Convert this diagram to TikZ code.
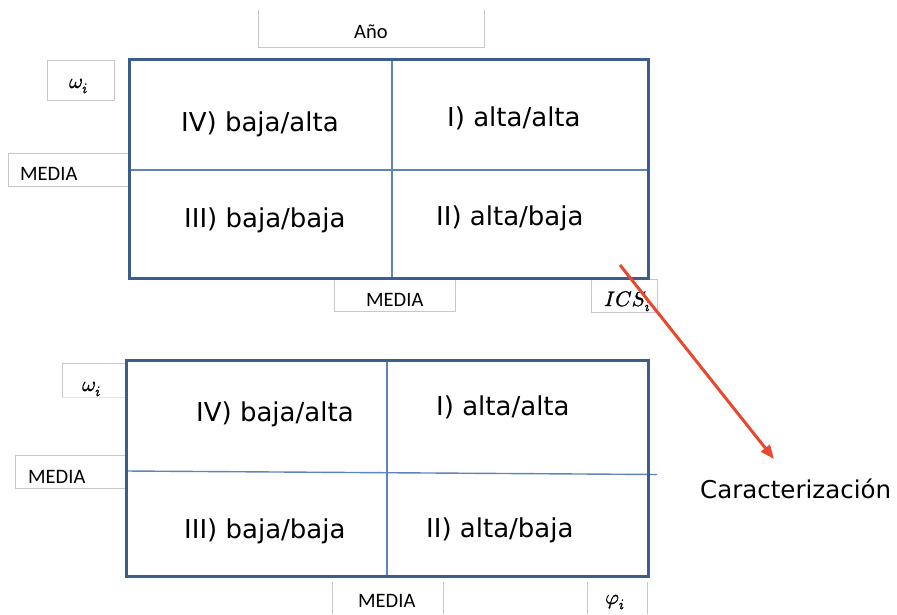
\documentclass[tikz,border=0pt]{standalone}
\usepackage{fontspec}
\usepackage{unicode-math}
\setmainfont{DejaVu Sans}
\setmathfont{Latin Modern Math}[FakeBold=1.2]
\newfontfamily\labfont{Carlito}
\usetikzlibrary{arrows.meta}
\definecolor{framecol}{RGB}{60,92,138}
\definecolor{divcol}{RGB}{95,132,186}
\definecolor{boxgray}{RGB}{200,200,200}
\definecolor{arrowred}{RGB}{232,72,45}
\begin{document}
\begin{tikzpicture}[x=1pt,y=-1pt,
  frame/.style={draw=framecol, line width=3pt},
  divider/.style={draw=divcol, line width=1.4pt},
  labbox/.style={draw=boxgray, line width=0.9pt},
  quad/.style={font=\fontsize{26}{30}\selectfont, inner sep=0pt, anchor=base west},
  lab/.style={font=\labfont\fontsize{20.5}{24}\selectfont, inner sep=0pt, anchor=base west},
  mlab/.style={font=\fontsize{21}{25}\selectfont, inner sep=0pt, anchor=base west},
  redarrow/.style={draw=arrowred, line width=3pt, -{Triangle[length=14pt,width=11pt]}}]
\useasboundingbox (0,0) rectangle (897,614);

% ---------- top matrix: label boxes ----------
\draw[labbox] (258,10) -- (258,47) -- (484,47) -- (484,10);
\node[lab] (anio) at (354,38.5) {Año};
\draw[labbox] (47,60) rectangle (114,100);
\node[mlab] (omegaA) at (69,88) {$\omega_i$};
\draw[labbox] (8,153) rectangle (129,186);
\node[lab] (mediaA1) at (20,180) {MEDIA};
\draw[labbox] (334,279) rectangle (455,311);
\node[lab] (mediaA2) at (366,306) {MEDIA};
\draw[labbox] (591,279) rectangle (657,312);
\node[mlab] (icsA) at (604,306) {$ICS_i$};

% ---------- top matrix ----------
\draw[divider] (392,59) -- (392,278);
\draw[divider] (129,170) -- (648,170);
\draw[frame] (129,59) rectangle (648,278);
\node[quad] (qIVa) at (181,131) {IV) baja/alta};
\node[quad] (qIa) at (447,126) {I) alta/alta};
\node[quad] (qIIIa) at (184,227) {III) baja/baja};
\node[quad] (qIIa) at (436,225) {II) alta/baja};

% ---------- bottom matrix: label boxes ----------
\draw[labbox] (126,363) -- (62,363) -- (62,397);
\draw[boxgray!50, line width=0.6pt] (62,397) -- (126,397);
\node[mlab] (omegaB) at (82,391) {$\omega_i$};
\draw[labbox] (15,455) rectangle (126,488);
\node[lab] (mediaB1) at (28,483) {MEDIA};
\draw[labbox] (332,582) -- (332,614);
\draw[labbox] (443,582) -- (443,614);
\node[lab] (mediaB2) at (358,607) {MEDIA};
\draw[labbox] (587,582) -- (587,614);
\draw[labbox] (647,582) -- (647,614);
\node[mlab] (phiB) at (605,604) {$\varphi_i$};

% ---------- bottom matrix ----------
\draw[divider] (387,360) -- (387,576);
\draw[divider] (126,471) -- (657,474.5);
\draw[frame] (126,360) rectangle (648,576);
\node[quad] (qIVb) at (196,421) {IV) baja/alta};
\node[quad] (qIb) at (436,415) {I) alta/alta};
\node[quad] (qIIIb) at (184,538) {III) baja/baja};
\node[quad] (qIIb) at (426,537) {II) alta/baja};

% ---------- arrow and caption ----------
\coordinate (arrstart) at (620,265);
\coordinate (arrend) at (774,459);
\draw[redarrow] (arrstart) -- (arrend);
\node[font=\fontsize{24.5}{28}\selectfont, inner sep=0pt, anchor=base west] (carac) at (700,498) {Caracterización};
\end{tikzpicture}
\end{document}
